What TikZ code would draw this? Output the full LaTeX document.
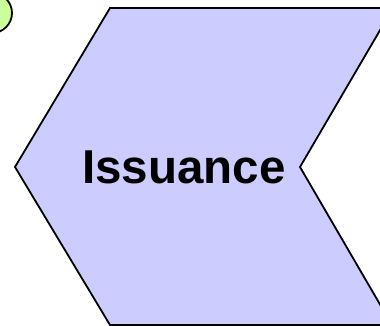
\documentclass[tikz,border=0pt]{standalone}
\usepackage{fontspec}
\setmainfont{Liberation Sans}
\begin{document}
\begin{tikzpicture}[x=1pt,y=1pt,
  chevron/.style={fill=lav,draw=black,line width=1.8pt,line join=miter},
  dot/.style={fill=lgreen,draw=black,line width=1.8pt},
  label/.style={font=\fontsize{47.5}{52}\selectfont\bfseries,anchor=base,inner sep=0pt}]
\definecolor{lav}{HTML}{CCCCFF}
\definecolor{lgreen}{HTML}{CCFF99}
\useasboundingbox (0,0) rectangle (380,326);
\clip (0,0) rectangle (380,326);
\draw[chevron] (110,318) -- (393,318) -- (300,159) -- (392,1) -- (110,1) -- (15,159) -- cycle;
\draw[dot] (-8,313) circle[radius=20];
\node[label] (t) at (184,142) {Issuance};
\end{tikzpicture}
\end{document}
